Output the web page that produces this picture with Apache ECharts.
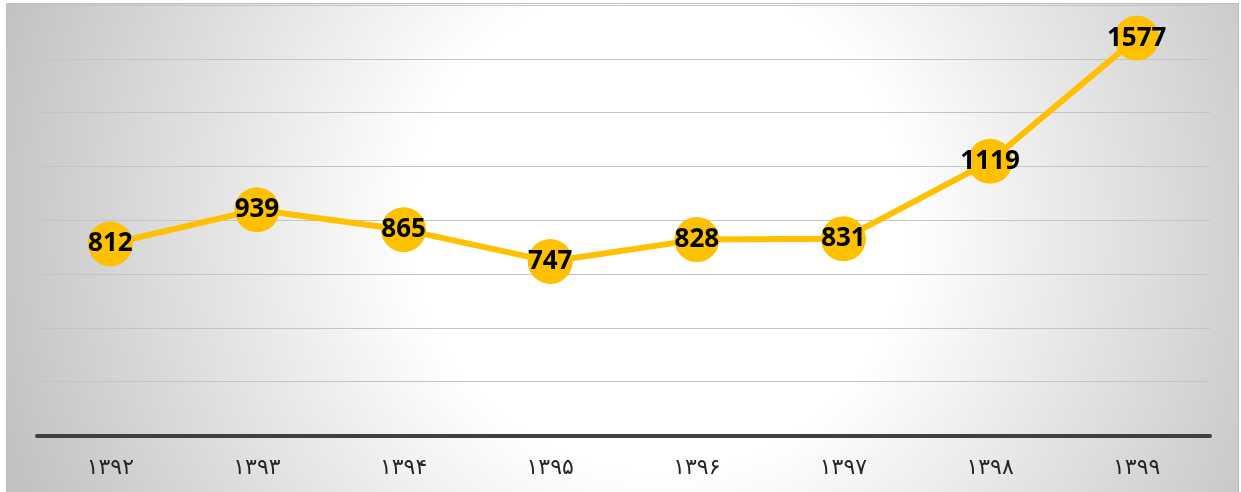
<!DOCTYPE html>
<html>
<head>
<meta charset="utf-8">
<script src="https://cdn.jsdelivr.net/npm/echarts@6/dist/echarts.min.js"></script>
<style>
html,body{margin:0;padding:0;background:#ffffff;}
#chart{width:1241px;height:492px;}
</style>
</head>
<body>
<div id="chart"></div>
<script>
const categories = ['۱۳۹۲','۱۳۹۳','۱۳۹۴','۱۳۹۵','۱۳۹۶','۱۳۹۷','۱۳۹۸','۱۳۹۹'];
const values = [812, 939, 865, 747, 828, 831, 1119, 1577];

const chart = echarts.init(document.getElementById('chart'), null, {renderer:'canvas'});
chart.setOption({
  animation: false,
  backgroundColor: '#ffffff',
  graphic: [{
    type: 'rect',
    z: -10,
    silent: true,
    shape: {x: 6.5, y: 3.5, width: 1232, height: 490},
    style: {
      fill: {
        type: 'radial', x: 0.53, y: 0.45, r: 1.4,
        colorStops: [
          {offset: 0, color: '#ffffff'},
          {offset: 0.36, color: '#ffffff'},
          {offset: 1, color: '#c2c2c2'}
        ]
      },
      stroke: '#bdbdbd',
      lineWidth: 1
    }
  }],
  grid: {left: 37, right: 31, top: 5, bottom: 56.5},
  xAxis: {
    type: 'category',
    data: categories,
    boundaryGap: true,
    axisLine: {show: true, lineStyle: {color: '#404040', width: 4}},
    axisTick: {show: false},
    axisLabel: {
      color: '#262626',
      fontFamily: 'DejaVu Sans',
      fontSize: 22,
      margin: 22
    }
  },
  yAxis: {
    type: 'value',
    min: 100,
    max: 1700,
    interval: 200,
    axisLine: {show: false},
    axisTick: {show: false},
    axisLabel: {show: false},
    splitLine: {show: true, lineStyle: {color: '#c4c4c4', width: 1.2}}
  },
  series: [{
    type: 'line',
    data: values,
    symbol: 'circle',
    symbolSize: 45,
    itemStyle: {color: '#FFC000'},
    lineStyle: {color: '#FFC000', width: 6},
    label: {
      show: true,
      position: 'inside',
      color: '#000000',
      fontFamily: 'Noto Sans',
      fontWeight: 'bold',
      fontSize: 26
    }
  }]
});
</script>
</body>
</html>
